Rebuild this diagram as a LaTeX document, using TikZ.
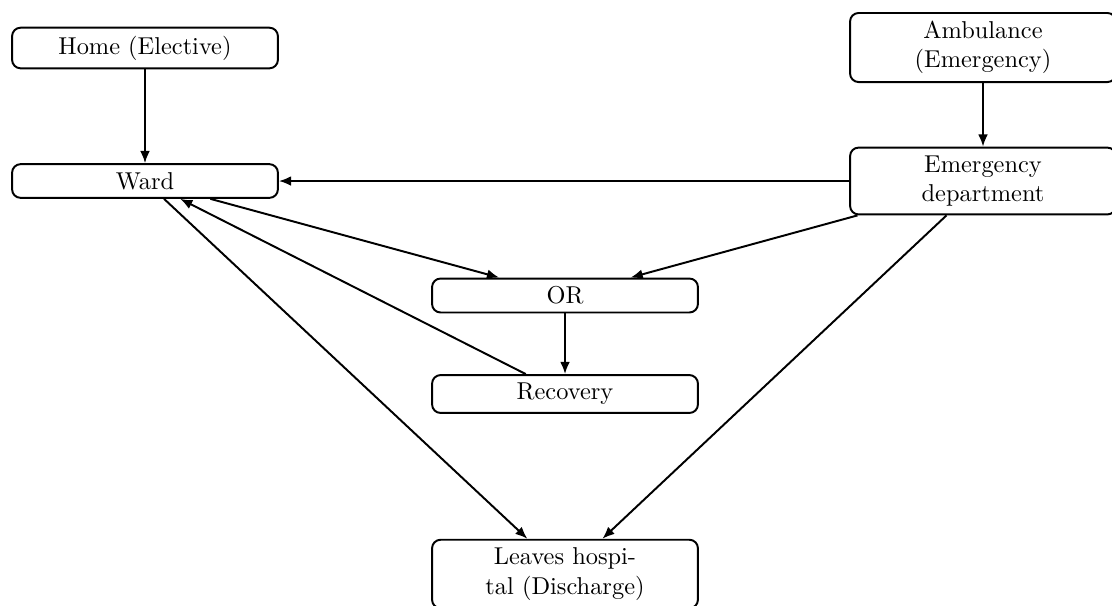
\documentclass[tikz,border=0pt]{standalone}
\usetikzlibrary{arrows.meta}
\begin{document}
\begin{tikzpicture}[x=0.41pt,y=-0.41pt,
  box/.style={draw,line width=0.8pt,rounded corners=3.5pt,minimum width=109pt,align=center,inner sep=3.33pt},
  conn/.style={line width=0.8pt,-{Latex[length=5pt,width=4pt]}}]
\useasboundingbox (0,0) rectangle (1112,605);
\node[box] (home) at (145,48) {Home (Elective)};
\node[box] (ward) at (145,181) {Ward};
\node[box] (amb) at (983,47.5) {Ambulance\\(Emergency)};
\node[box] (ed) at (983,181) {Emergency\\department};
\node[box] (or) at (565,295.5) {OR};
\node[box] (rec) at (565,394) {Recovery};
\node[box] (leave) at (565,574) {Leaves hospi-\\tal (Discharge)};
\draw[conn] (home) -- (ward);
\draw[conn] (amb) -- (ed);
\draw[conn] (ed) -- (ward);
\draw[conn] (ward) -- (or);
\draw[conn] (ed) -- (or);
\draw[conn] (or) -- (rec);
\draw[conn] (rec) -- (ward);
\draw[conn] (ward) -- (leave);
\draw[conn] (ed) -- (leave);
\end{tikzpicture}
\end{document}
